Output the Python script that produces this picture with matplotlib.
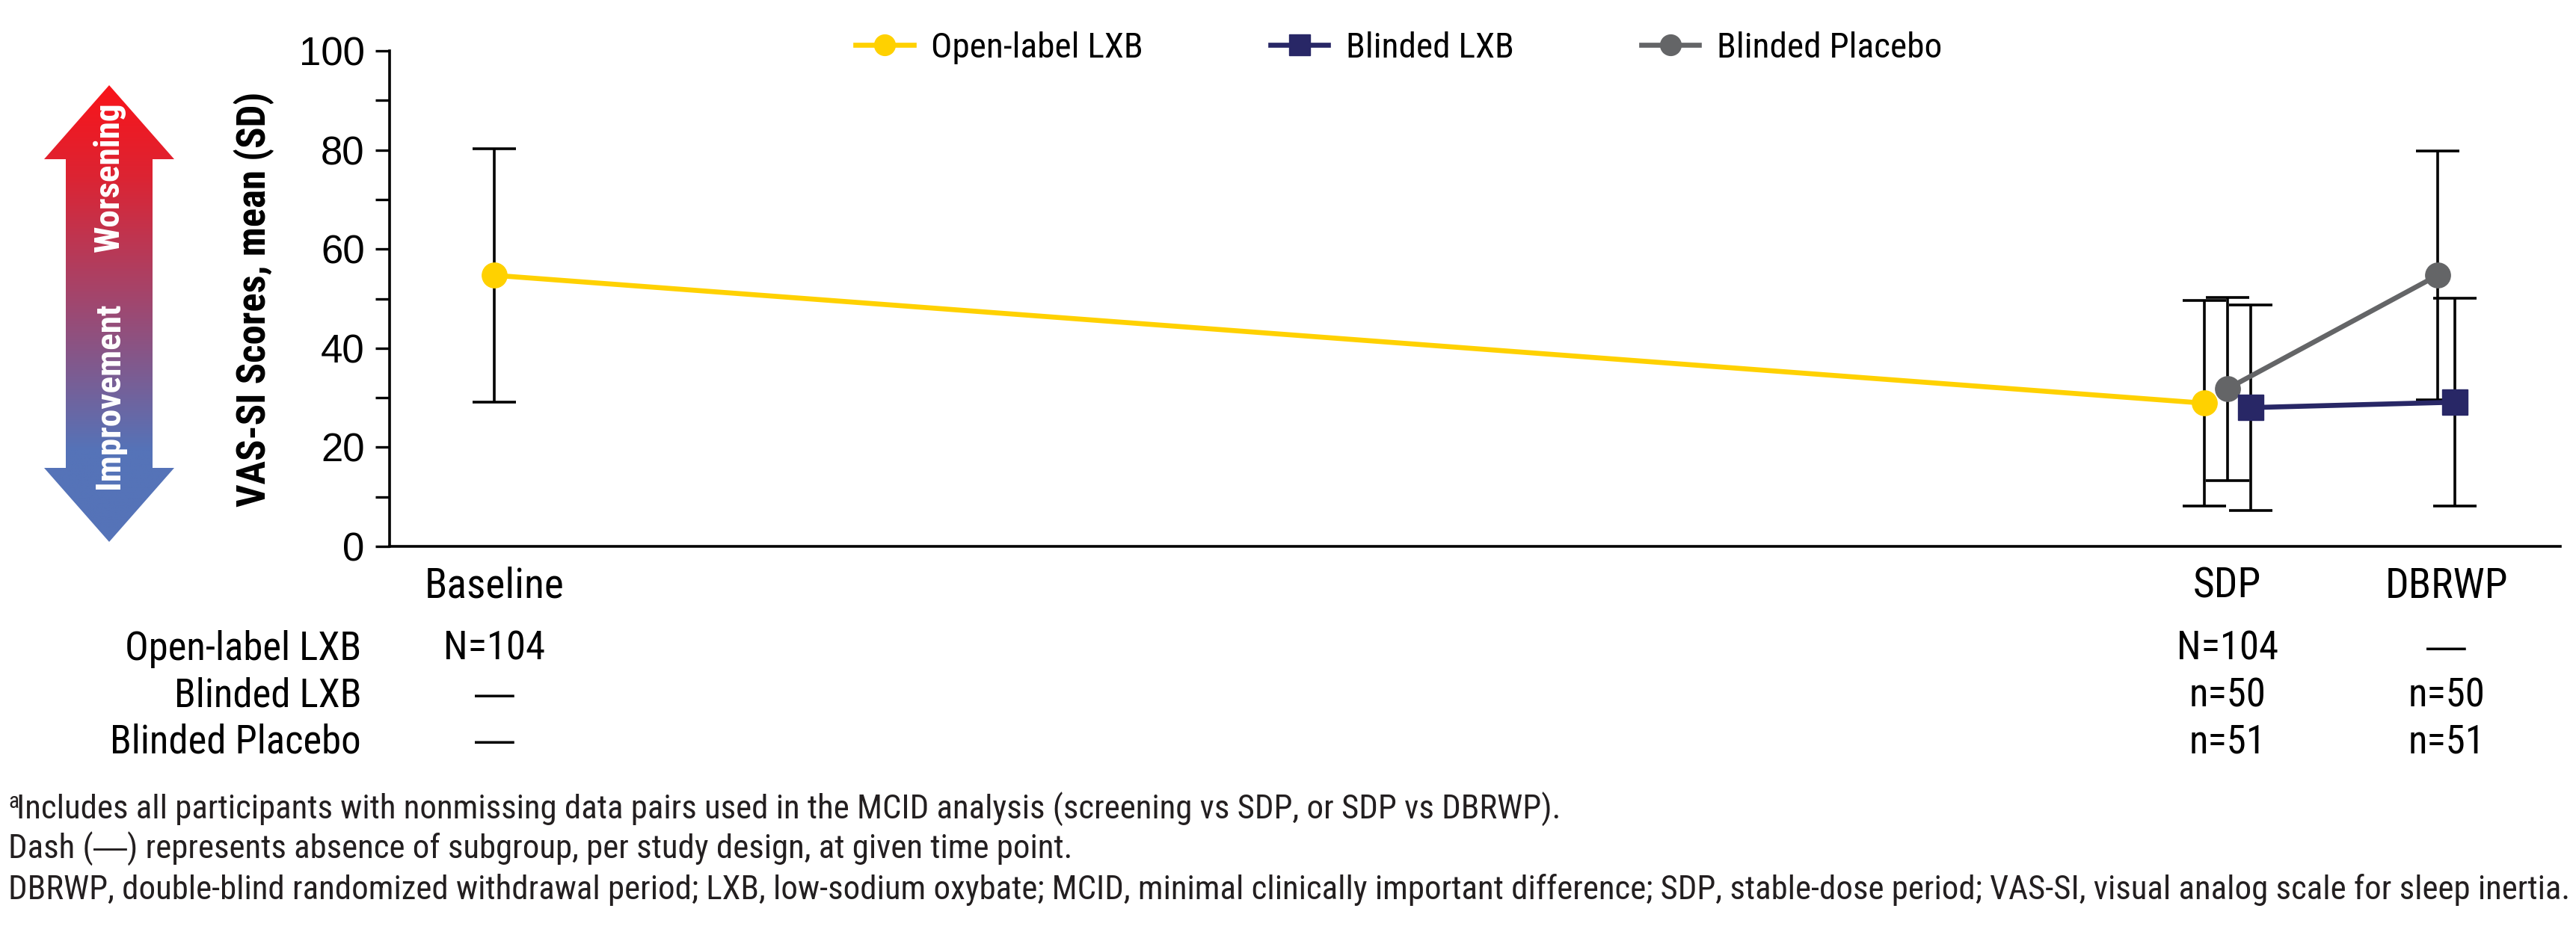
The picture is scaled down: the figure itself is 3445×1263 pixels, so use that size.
import numpy as np
import matplotlib
matplotlib.use('Agg')
import matplotlib.pyplot as plt
from matplotlib import font_manager, transforms
from matplotlib.colors import LinearSegmentedColormap
from matplotlib.patches import Polygon
from matplotlib.lines import Line2D

# --- data -----------------------------------------------------------------
timepoints = ['Baseline', 'SDP', 'DBRWP']
tp_pos = [0.0, 7.91, 8.91]

groups = ['Open-label LXB', 'Blinded LXB', 'Blinded Placebo']

open_mean = [54.7, 28.9]          # Baseline, SDP
open_sd = [25.6, 20.7]
blinded_lxb_mean = [28.0, 29.1]   # SDP, DBRWP
blinded_lxb_sd = [20.7, 21.0]
placebo_mean = [31.8, 54.7]       # SDP, DBRWP
placebo_sd = [18.5, 25.1]

DASH = '\u2014'
n_open = ['N=104', 'N=104', DASH]
n_blinded_lxb = [DASH, 'n=50', 'n=50']
n_placebo = [DASH, 'n=51', 'n=51']

footnote_a = ('Includes all participants with nonmissing data pairs used in the MCID analysis '
              '(screening vs SDP, or SDP vs DBRWP).')
footnote_dash = ['Dash (', DASH, ') represents absence of subgroup, per study design, at given time point.']
footnote_abbr = ('DBRWP, double-blind randomized withdrawal period; LXB, low-sodium oxybate; MCID, minimal '
                 'clinically important difference; SDP, stable-dose period; VAS-SI, visual analog scale '
                 'for sleep inertia.')

# --- fonts ----------------------------------------------------------------
installed = {f.name for f in font_manager.fontManager.ttflist}
narrow = next((n for n in ['Liberation Sans Narrow', 'Arial Narrow', 'Roboto Condensed']
               if n in installed), 'DejaVu Sans')
regular = 'Liberation Sans' if 'Liberation Sans' in installed else 'DejaVu Sans'
plt.rcParams['font.family'] = [narrow, 'DejaVu Sans']

YELLOW = '#ffd100'
NAVY = '#282766'
GRAY = '#646567'
NOTE = '#231f20'

W, H = 3445, 1263
fig = plt.figure(figsize=(W / 100, H / 100), dpi=100)
fig.patch.set_facecolor('white')

ax = fig.add_axes([521 / W, 1 - 731 / H, (3424 - 521) / W, (731 - 68) / H])

# --- series ---------------------------------------------------------------
eb_kw = dict(ecolor='black', elinewidth=2.6, capsize=21, capthick=2.6, zorder=2)
x_open = [tp_pos[0], tp_pos[1] - 0.105]
x_lxb = [tp_pos[1] + 0.107, tp_pos[2] + 0.04]
x_pbo = [tp_pos[1], tp_pos[2] - 0.04]

ax.errorbar(x_open, open_mean, yerr=open_sd, fmt='none', **eb_kw)
ax.errorbar(x_pbo, placebo_mean, yerr=placebo_sd, fmt='none', **eb_kw)
ax.errorbar(x_lxb, blinded_lxb_mean, yerr=blinded_lxb_sd, fmt='none', **eb_kw)

ax.plot(x_open, open_mean, color=YELLOW, lw=4.8, marker='o', ms=24, zorder=3)
ax.plot(x_pbo, placebo_mean, color=GRAY, lw=4.8, marker='o', ms=24, zorder=3)
ax.plot(x_lxb, blinded_lxb_mean, color=NAVY, lw=4.8, marker='s', ms=24, zorder=4)

# --- axes -----------------------------------------------------------------
ax.set_xlim(-0.478, 9.43)
ax.set_ylim(0, 100)
ax.set_yticks(np.arange(0, 101, 20))
ax.set_yticks(np.arange(10, 100, 20), minor=True)
ax.tick_params(axis='y', which='both', length=14, width=2.4, direction='out', pad=10)
ax.tick_params(axis='y', labelsize=38)
for lab in ax.get_yticklabels():
    lab.set_family(regular)
ax.set_xticks([])
for side in ['top', 'right']:
    ax.spines[side].set_visible(False)
for side in ['left', 'bottom']:
    ax.spines[side].set_linewidth(2.6)

fig.text(340 / W, 1 - 400 / H, 'VAS-SI Scores, mean (SD)', rotation=90,
         ha='center', va='center', fontsize=38, fontweight='bold')

# --- category labels and sample size table ---------------------------------
blend = transforms.blended_transform_factory(ax.transData, fig.transFigure)
for x, lab in zip(tp_pos, timepoints):
    fig.text(x, 1 - 784 / H, lab, transform=blend, ha='center', va='center', fontsize=40)

row_y = [1 - 868 / H, 1 - 931 / H, 1 - 993 / H]
for y, name, counts in zip(row_y, groups, [n_open, n_blinded_lxb, n_placebo]):
    fig.text(483 / W, y, name, ha='right', va='center', fontsize=38)
    for x, c in zip(tp_pos, counts):
        # the narrow face draws a short em dash, so dashes use the regular face
        fam = regular if c == DASH else None
        fig.text(x, y, c, transform=blend, ha='center', va='center', fontsize=38, family=fam)

# --- legend ---------------------------------------------------------------
handles = [
    Line2D([], [], color=YELLOW, lw=4.8, marker='o', ms=20),
    Line2D([], [], color=NAVY, lw=4.8, marker='s', ms=20),
    Line2D([], [], color=GRAY, lw=4.8, marker='o', ms=20),
]
fig.legend(handles, groups, loc='center', bbox_to_anchor=(0.543, 1 - 64 / H), ncol=3,
           frameon=False, fontsize=34, handlelength=1.64, handletextpad=0.5,
           columnspacing=3.6)

# --- footnotes ------------------------------------------------------------
fn_y = [1 - 1083 / H, 1 - 1136 / H, 1 - 1191 / H]
fn_size = 32.3
fig.text(11 / W, fn_y[0] + 0.008, 'a', fontsize=21, va='center', color=NOTE)
fig.text(22 / W, fn_y[0], footnote_a, fontsize=fn_size, va='center', color=NOTE)

# second line is set piecewise so the dash can use the regular face
renderer = fig.canvas.get_renderer()
x_px = 11
for part in footnote_dash:
    fam = regular if part == DASH else None
    t = fig.text(x_px / W, fn_y[1], part, fontsize=fn_size, va='center', color=NOTE, family=fam)
    x_px += t.get_window_extent(renderer).width

fig.text(11 / W, fn_y[2], footnote_abbr, fontsize=fn_size, va='center', color=NOTE)

# --- improvement / worsening arrow ----------------------------------------
ax_arr = fig.add_axes([59 / W, 1 - 725 / H, 174 / W, 611 / H])
ax_arr.set_xlim(0, 1)
ax_arr.set_ylim(0, 1)
ax_arr.axis('off')
head = 99 / 611
sl, sr = (88 - 59) / 174, (204 - 59) / 174
outline = [(0.5, 1), (1, 1 - head), (sr, 1 - head), (sr, head), (1, head), (0.5, 0),
           (0, head), (sl, head), (sl, 1 - head), (0, 1 - head)]
arrow = Polygon(outline, closed=True, facecolor='none', edgecolor='none')
ax_arr.add_patch(arrow)
grad_cmap = LinearSegmentedColormap.from_list(
    'worse', [(0, '#5573b8'), (0.2, '#5573b8'), (0.5, '#9b4a74'), (0.8, '#dc2433'), (1, '#f9141a')])
grad = np.linspace(0, 1, 256).reshape(-1, 1)
img = ax_arr.imshow(grad, cmap=grad_cmap, extent=[0, 1, 0, 1], origin='lower', aspect='auto')
img.set_clip_path(arrow)
ax_arr.text(0.5, 0.80, 'Worsening', rotation=90, ha='center', va='center',
            color='white', fontsize=34, fontweight='bold')
ax_arr.text(0.5, 0.32, 'Improvement', rotation=90, ha='center', va='center',
            color='white', fontsize=34, fontweight='bold')

fig.savefig('out.png', dpi=100, facecolor='white')
